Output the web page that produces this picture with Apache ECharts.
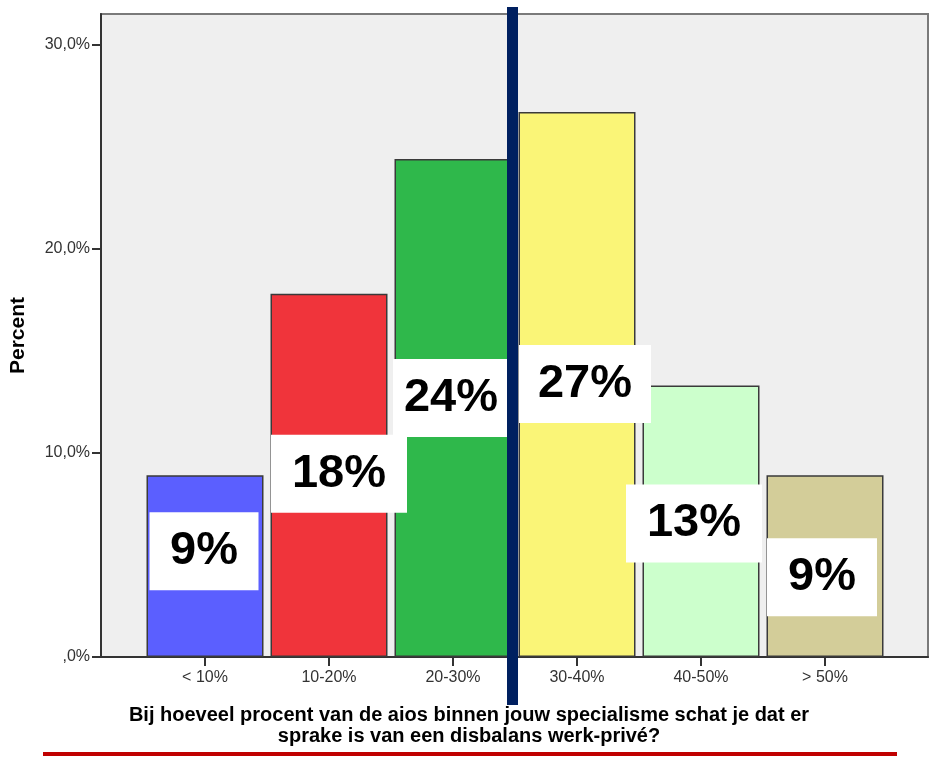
<!DOCTYPE html>
<html>
<head>
<meta charset="utf-8">
<script src="https://cdn.jsdelivr.net/npm/echarts@6/dist/echarts.min.js"></script>
<style>
  html, body { margin: 0; padding: 0; background: #fff; }
  #chart { width: 933px; height: 757px; }
</style>
</head>
<body>
<div id="chart"></div>
<script>
// categorieen en percentages
var categories = ['< 10%', '10-20%', '20-30%', '30-40%', '40-50%', '> 50%'];
var percents = [8.9, 17.8, 24.4, 26.7, 13.3, 8.9];
var barLabels = ['9%', '18%', '24%', '27%', '13%', '9%'];
var yTicks = [0, 10, 20, 30];

var barColors = ['#5b5fff', '#f0343b', '#2fb84b', '#faf577', '#ccffcc', '#d3cd99'];
// witte labelvakken: verschuiving t.o.v. bovenkant balk, breedte
var labelBoxes = [
  { offset: [-1, 37], width: 109 },
  { offset: [10, 141], width: 136 },
  { offset: [-2, 200], width: 116 },
  { offset: [8, 233], width: 132 },
  { offset: [-7, 99], width: 136 },
  { offset: [-3, 63], width: 110 }
];

var font = '"Liberation Sans", Arial, sans-serif';

var barData = percents.map(function (v, i) {
  return {
    value: v,
    itemStyle: { color: barColors[i] },
    label: {
      show: true,
      formatter: barLabels[i],
      position: 'insideTop',
      distance: 0,
      offset: labelBoxes[i].offset,
      width: labelBoxes[i].width,
      height: 78,
      lineHeight: 78,
      align: 'center',
      backgroundColor: '#ffffff',
      color: '#000',
      fontFamily: font,
      fontWeight: 'bold',
      fontSize: 47
    }
  };
});

function pctLabel(v) {
  if (v === 0) return ',0%';
  return v.toFixed(1).replace('.', ',') + '%';
}

var myChart = echarts.init(document.getElementById('chart'));
var option = {
  animation: false,
  grid: [
    { left: 101, right: 5, top: 14, bottom: 100, outerBoundsMode: 'none', containLabel: false, show: true, backgroundColor: '#efefef', borderColor: '#7a7a7a', borderWidth: 2 },
    { left: 143, right: 46, top: 14, bottom: 100, outerBoundsMode: 'none', containLabel: false }
  ],
  xAxis: [
    {
      gridIndex: 0, type: 'value', min: 0, max: 1,
      axisLine: { show: true, onZero: false, lineStyle: { color: '#333', width: 2 } },
      axisTick: { show: false }, axisLabel: { show: false }, splitLine: { show: false }
    },
    {
      gridIndex: 1, type: 'category', data: categories,
      axisLine: { show: false },
      axisTick: { show: true, alignWithLabel: true, length: 9, lineStyle: { color: '#333', width: 2 } },
      axisLabel: { margin: 13, fontSize: 16, color: '#333', fontFamily: font }
    }
  ],
  yAxis: [
    {
      gridIndex: 0, type: 'value', min: 0, max: 31.5,
      name: 'Percent', nameLocation: 'middle', nameGap: 72,
      nameTextStyle: { fontFamily: font, fontWeight: 'bold', fontSize: 21, color: '#000' },
      axisLine: { show: true, lineStyle: { color: '#333', width: 2 } },
      axisTick: { show: true, length: 9, customValues: yTicks, lineStyle: { color: '#333', width: 2 } },
      axisLabel: { margin: 11, fontSize: 16, color: '#333', fontFamily: font, customValues: yTicks, formatter: pctLabel },
      splitLine: { show: false }
    },
    { gridIndex: 1, type: 'value', min: 0, max: 31.5, show: false }
  ],
  series: [
    {
      type: 'bar',
      xAxisIndex: 1, yAxisIndex: 1,
      barWidth: 117,
      itemStyle: { borderColor: '#3a3a3a', borderWidth: 1.5 },
      data: barData
    }
  ],
  graphic: [
    {
      type: 'line', z: 100,
      shape: { x1: 512.5, y1: 7, x2: 512.5, y2: 705 },
      style: { stroke: '#002060', lineWidth: 11 }
    },
    {
      type: 'line', z: 100,
      shape: { x1: 43, y1: 754, x2: 897, y2: 754 },
      style: { stroke: '#c00000', lineWidth: 4 }
    },
    {
      type: 'text', x: 469, y: 705,
      style: {
        text: 'Bij hoeveel procent van de aios binnen jouw specialisme schat je dat er\nsprake is van een disbalans werk-privé?',
        font: 'bold 20px "Liberation Sans", Arial, sans-serif',
        fill: '#000',
        textAlign: 'center',
        textVerticalAlign: 'top',
        lineHeight: 21
      }
    }
  ]
};
myChart.setOption(option);
window.onresize = myChart.resize;
</script>
</body>
</html>
